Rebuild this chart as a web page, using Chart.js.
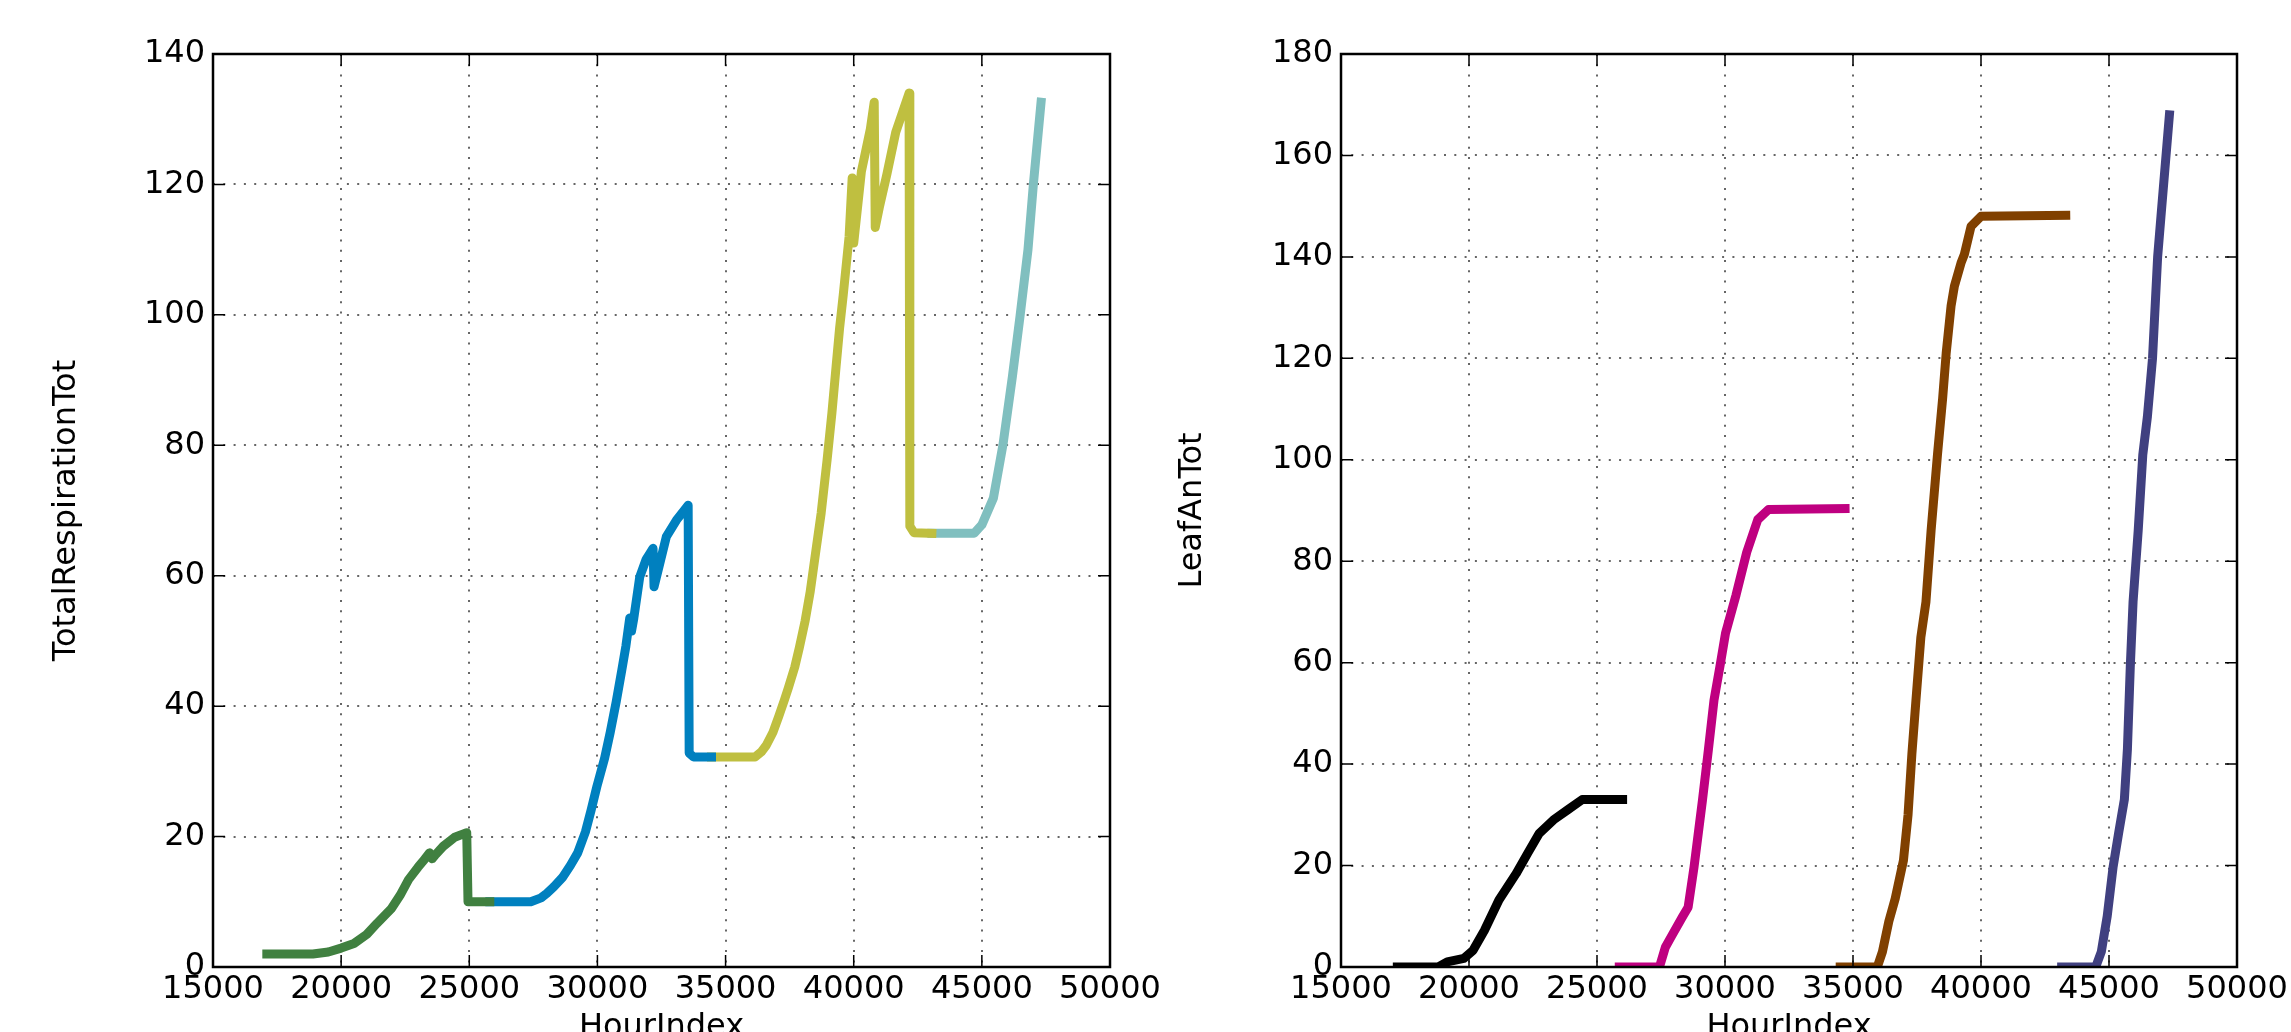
<!DOCTYPE html>
<html>
<head>
<meta charset="utf-8">
<script src="https://cdn.jsdelivr.net/npm/chart.js@4.4.1/dist/chart.umd.min.js"></script>
<style>
  html, body { margin: 0; padding: 0; background: #fff; overflow: hidden; }
  #resp { position: absolute; left: 0; top: 0; }
  #leaf { position: absolute; left: 1150px; top: 0; }
</style>
</head>
<body>
<canvas id="resp" width="1250" height="1080"></canvas>
<canvas id="leaf" width="1141" height="1080"></canvas>
<script>
// tick values
const xTicks = [15000, 20000, 25000, 30000, 35000, 40000, 45000, 50000];
const respTicks = [0, 20, 40, 60, 80, 100, 120, 140];
const leafTicks = [0, 20, 40, 60, 80, 100, 120, 140, 160, 180];

// TotalRespirationTot, one run per colour
const greenX = [17100, 18900, 19500, 20000, 20500, 21000, 21400, 21950, 22300, 22630, 23000, 23230, 23450, 23550, 23700, 23980, 24430, 24900, 24950, 25800];
const greenY = [2, 2, 2.3, 2.9, 3.6, 5.0, 6.7, 8.9, 11, 13.4, 15.3, 16.4, 17.5, 16.6, 17.3, 18.5, 19.9, 20.6, 10, 10];
const blueX = [25800, 27400, 27800, 28030, 28300, 28630, 28950, 29230, 29530, 29750, 29980, 30280, 30500, 30730, 30950, 31110, 31260, 31330, 31420, 31650, 31900, 32170, 32210, 32460, 32690, 33080, 33540, 33580, 33750, 34450];
const blueY = [10, 10, 10.6, 11.3, 12.3, 13.7, 15.6, 17.5, 20.7, 24, 27.7, 32, 36, 40.6, 45.5, 49.2, 53.5, 51.5, 53.5, 59.8, 62.5, 64.2, 58.3, 62.3, 66, 68.5, 70.8, 32.8, 32.2, 32.2];
const oliveX = [34450, 36150, 36400, 36590, 36850, 37080, 37300, 37450, 37700, 37880, 38100, 38300, 38530, 38730, 38960, 39150, 39310, 39450, 39590, 39820, 39940, 40000, 40300, 40650, 40800, 40840, 41000, 41290, 41640, 41900, 42160, 42190, 42350, 43050];
const oliveY = [32.2, 32.2, 33, 34, 36, 38.5, 41, 42.8, 46, 49, 53, 57.5, 64, 69.6, 77.7, 85, 92, 98, 103, 112, 121, 111, 122, 128.5, 132.6, 113.4, 116.5, 121.5, 128, 131, 134, 67.6, 66.6, 66.5];
const tealX = [43050, 44700, 45000, 45450, 45820, 46190, 46490, 46800, 47010, 47310];
const tealY = [66.5, 66.5, 67.8, 71.9, 80, 90.5, 99.8, 110, 120, 132.6];

// LeafAnTot, one run per colour
const blackX = [17200, 18800, 19150, 19800, 20160, 20600, 21170, 21840, 22290, 22740, 23300, 23860, 24420, 26000];
const blackY = [0, 0, 1, 1.7, 3.3, 7.2, 13.2, 18.4, 22.4, 26.3, 29, 31, 33, 33];
const magentaX = [25870, 27440, 27670, 27890, 28340, 28560, 28790, 29120, 29350, 29570, 29800, 30020, 30430, 30850, 31280, 31700, 34690];
const magentaY = [0, 0, 3.9, 5.9, 9.9, 11.8, 19.7, 32.9, 42.8, 52.6, 59.2, 65.8, 73.3, 81.8, 88.2, 90.2, 90.4];
const brownX = [34500, 35950, 36150, 36400, 36650, 36970, 37150, 37300, 37450, 37650, 37850, 38050, 38300, 38500, 38640, 38830, 38960, 39220, 39350, 39610, 40000, 43310];
const brownY = [0, 0, 3, 9, 13.5, 21, 30, 42, 52, 65, 72, 86, 101, 112, 121, 130.3, 134.2, 138.8, 140.5, 146, 148, 148.2];
const navyX = [43150, 44480, 44700, 44930, 45160, 45380, 45600, 45720, 45830, 45940, 46140, 46320, 46500, 46700, 46900, 47030, 47360];
const navyY = [0, 0, 3, 10, 19.7, 26.5, 33, 43, 59, 72, 86, 101, 108.5, 120, 140, 148, 168];

Chart.defaults.font.family = '"DejaVu Sans", sans-serif';
Chart.defaults.color = '#000';

const pts = (xs, ys) => xs.map((x, i) => ({ x: x, y: ys[i] }));

// matplotlib style frame with inward ticks on all four sides
const frameTicks = {
  id: 'frameTicks',
  afterDatasetsDraw(chart) {
    const { ctx, chartArea: a, scales: { x, y } } = chart;
    ctx.save();
    ctx.strokeStyle = '#000';
    ctx.lineWidth = 1.5;
    ctx.beginPath();
    x.ticks.forEach(t => {
      const px = x.getPixelForValue(t.value);
      ctx.moveTo(px, a.bottom); ctx.lineTo(px, a.bottom - 12);
      ctx.moveTo(px, a.top); ctx.lineTo(px, a.top + 12);
    });
    y.ticks.forEach(t => {
      const py = y.getPixelForValue(t.value);
      ctx.moveTo(a.left, py); ctx.lineTo(a.left + 12, py);
      ctx.moveTo(a.right, py); ctx.lineTo(a.right - 12, py);
    });
    ctx.stroke();
    ctx.lineWidth = 2.5;
    ctx.strokeRect(a.left, a.top, a.right - a.left, a.bottom - a.top);
    ctx.restore();
  }
};

function makeChart(id, runs, yTicks, yTitle, box) {
  return new Chart(document.getElementById(id), {
    type: 'line',
    data: {
      datasets: runs.map(r => ({
        data: pts(r[0], r[1]),
        borderColor: r[2],
        borderWidth: 9,
        borderJoinStyle: 'round',
        borderCapStyle: 'square',
        pointRadius: 0,
        tension: 0,
        fill: false
      }))
    },
    options: {
      responsive: false,
      animation: false,
      events: [],
      layout: { autoPadding: false, padding: { top: 54, right: box.right, left: 0, bottom: 0 } },
      plugins: { legend: { display: false }, tooltip: { enabled: false } },
      scales: {
        x: {
          type: 'linear',
          min: 15000,
          max: 50000,
          afterBuildTicks: s => { s.ticks = xTicks.map(v => ({ value: v })); },
          afterFit: s => { s.height = 1080 - 967; },
          ticks: { callback: v => String(v), font: { size: 32 }, padding: 3, maxRotation: 0, autoSkip: false },
          grid: { color: 'rgba(0,0,0,0.6)', lineWidth: 2, drawTicks: false },
          border: { display: false, dash: [2, 8.3] },
          title: { display: true, text: 'HourIndex', font: { size: 32 }, padding: { top: 0, bottom: 33 } }
        },
        y: {
          type: 'linear',
          min: 0,
          max: yTicks[yTicks.length - 1],
          afterBuildTicks: s => { s.ticks = yTicks.map(v => ({ value: v })); },
          afterFit: s => { s.width = box.axisW; },
          ticks: { font: { size: 32 }, padding: 8 },
          grid: { color: 'rgba(0,0,0,0.6)', lineWidth: 2, drawTicks: false },
          border: { display: false, dash: [2, 8.3] },
          title: { display: true, text: yTitle, font: { size: 32 }, padding: { top: box.titlePad, bottom: 0 } }
        }
      }
    },
    plugins: [frameTicks]
  });
}

makeChart('resp', [
  [greenX, greenY, '#408040'],
  [blueX, blueY, '#0080bf'],
  [oliveX, oliveY, '#bfbf40'],
  [tealX, tealY, '#80bfbf']
], respTicks, 'TotalRespirationTot', { axisW: 213, right: 140, titlePad: 47 });

makeChart('leaf', [
  [blackX, blackY, '#000000'],
  [magentaX, magentaY, '#bf0080'],
  [brownX, brownY, '#804000'],
  [navyX, navyY, '#404080']
], leafTicks, 'LeafAnTot', { axisW: 191, right: 54, titlePad: 23 });
</script>
</body>
</html>
